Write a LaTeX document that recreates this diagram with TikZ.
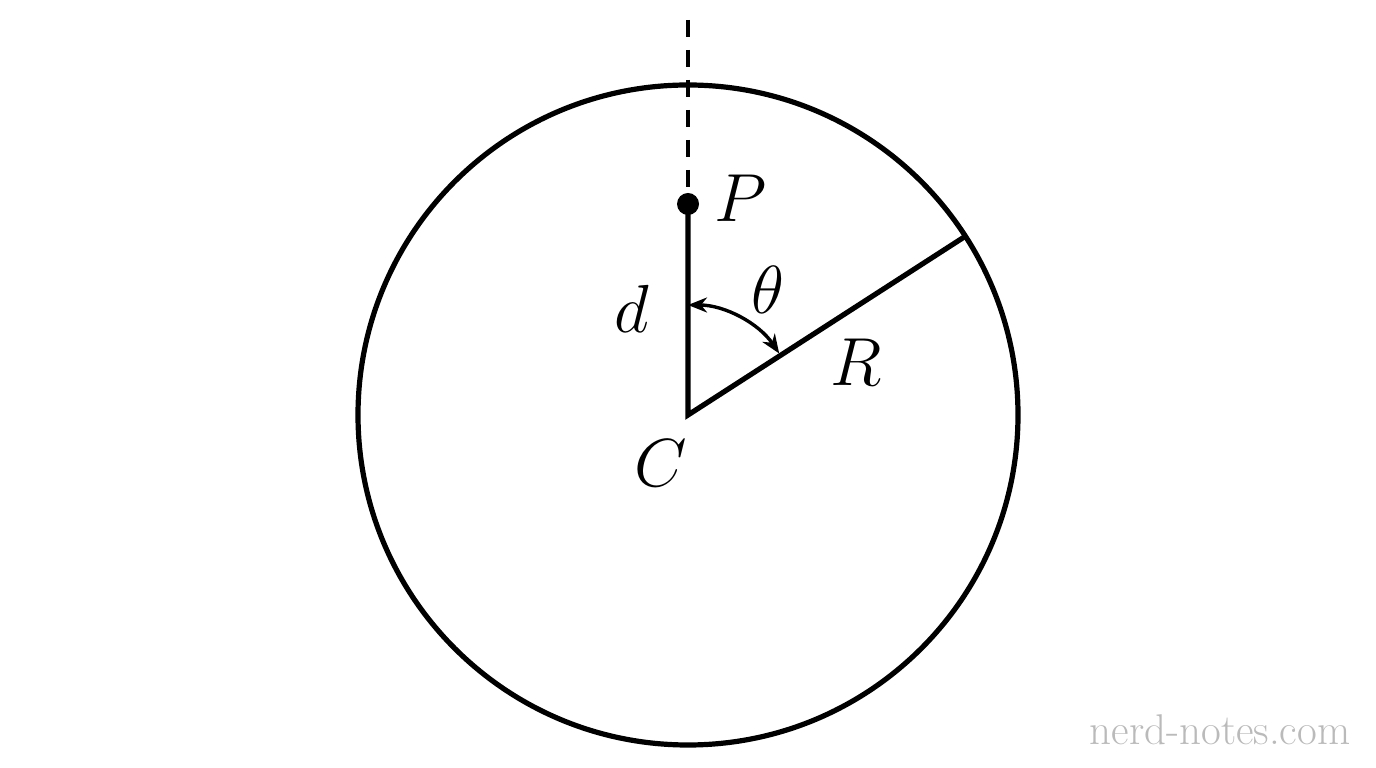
\RequirePackage{fix-cm}
\documentclass[tikz,border=0pt]{standalone}
\usetikzlibrary{arrows.meta,calc}
\begin{document}
\begin{tikzpicture}[x=1pt,y=1pt,
  thick line/.style={line width=5.2pt},
  lbl/.style={font=\fontsize{68}{72}\selectfont},
  wm/.style={font=\fontsize{43}{46}\selectfont, text=black!27}]
\useasboundingbox (0,0) rectangle (1376,768);
\coordinate (C) at (688,353);
\coordinate (P) at (688,564);
\coordinate (Rend) at ($(C)+(32.8:330)$);
\coordinate (Top) at (688,748);
\draw[thick line] (C) circle (330);
\draw[line width=3.4pt, dash pattern=on 17pt off 13pt] (Top) -- (P);
\draw[thick line] (P) -- (C) -- (Rend);
\fill (P) circle (11);
\coordinate (A1) at ($(C)+(90:110)$);
\draw[line width=3.4pt, {Stealth[length=19pt,width=15pt,inset=6pt]}-{Stealth[length=19pt,width=15pt,inset=6pt]}] (A1) arc[start angle=90, end angle=34, radius=110];
\node[lbl] (Pl) at (741,570) {$P$};
\node[lbl] (dl) at (632,459) {$d$};
\node[lbl] (tl) at (768,478) {$\theta$};
\node[lbl] (Rl) at (856,406) {$R$};
\node[lbl] (Cl) at (661,305) {$C$};
\node[wm] (w) at (1220,38) {nerd-notes.com};
\end{tikzpicture}
\end{document}
